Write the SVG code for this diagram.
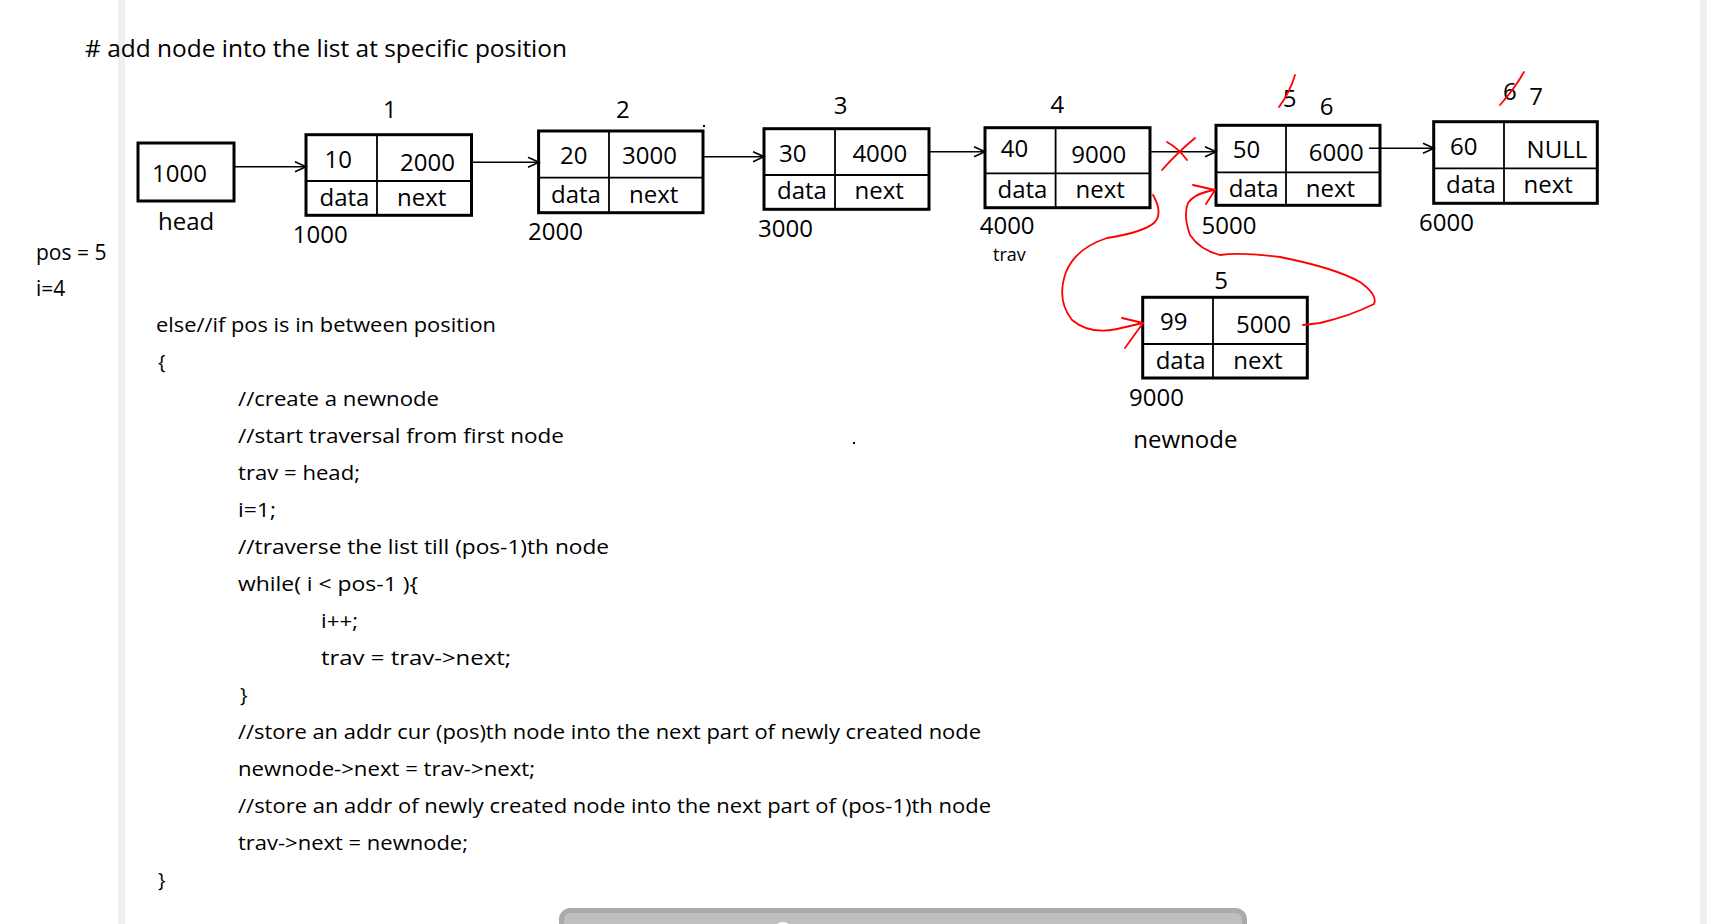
<svg xmlns="http://www.w3.org/2000/svg" width="1712" height="924" viewBox="0 0 1712 924">
<defs>
<style>
text{font-family:"Open Sans","Liberation Sans",sans-serif;fill:#000}
.t{font-size:24px}
.s{font-size:21px}
.c{font-size:20px}
.box{fill:#fff;stroke:#000;stroke-width:3}
.div{stroke:#000;stroke-width:1.8;fill:none}
.con{stroke:#000;stroke-width:1.6;fill:none;marker-end:url(#ah)}
.red{stroke:#ff0000;stroke-width:1.8;fill:none;stroke-linecap:round;stroke-linejoin:round}
</style>
<marker id="ah" markerUnits="userSpaceOnUse" markerWidth="14" markerHeight="14" refX="12" refY="6" orient="auto">
<path d="M1,1 L12,6 L1,11" fill="none" stroke="#000" stroke-width="1.6"/>
</marker>
</defs>
<rect width="1712" height="924" fill="#fff"/>
<rect x="118" y="0" width="7" height="924" fill="#f0f0f0"/>
<rect x="1700" y="0" width="7" height="924" fill="#f0f0f0"/>
<rect x="561.5" y="910.5" width="683" height="30" rx="9" fill="#bfbfbf" stroke="#aaaaaa" stroke-width="5"/>
<circle cx="783" cy="932" r="10" fill="#fff"/>

<text class="t" x="85" y="57" font-size="23" textLength="482" lengthAdjust="spacingAndGlyphs">#&#160;add node into the list at specific position</text>
<text class="s" x="36" y="260">pos = 5</text>
<text class="s" x="36" y="296">i=4</text>

<g id="head">
<rect class="box" x="138" y="143" width="96" height="58"/>
<text class="t" x="152" y="182">1000</text>
<text class="t" x="158" y="230">head</text>
</g>

<g id="node1">
<rect class="box" x="306" y="134.7" width="165.5" height="80.6"/>
<line class="div" x1="377" y1="134.7" x2="377" y2="215.3"/>
<line class="div" x1="306" y1="181" x2="471.5" y2="181"/>
<text class="t" x="324.5" y="167.7">10</text>
<text class="t" x="400" y="170.7">2000</text>
<text class="t" x="319.5" y="206">data</text>
<text class="t" x="397" y="206">next</text>
<text class="t" x="383" y="118">1</text>
<text class="t" x="292.8" y="243">1000</text>
</g>

<g id="node2">
<rect class="box" x="538.6" y="131" width="164.4" height="81.7"/>
<line class="div" x1="609" y1="131" x2="609" y2="212.7"/>
<line class="div" x1="538.6" y1="177.7" x2="703" y2="177.7"/>
<text class="t" x="560" y="164">20</text>
<text class="t" x="622" y="164">3000</text>
<text class="t" x="551" y="202.7">data</text>
<text class="t" x="629" y="202.7">next</text>
<text class="t" x="616" y="118">2</text>
<text class="t" x="528" y="240">2000</text>
</g>

<g id="node3">
<rect class="box" x="764" y="128.7" width="165" height="80.6"/>
<line class="div" x1="835" y1="128.7" x2="835" y2="209.3"/>
<line class="div" x1="764" y1="175" x2="929" y2="175"/>
<text class="t" x="779" y="161.7">30</text>
<text class="t" x="852.4" y="161.7">4000</text>
<text class="t" x="777" y="199.3">data</text>
<text class="t" x="854.5" y="199.3">next</text>
<text class="t" x="833.7" y="114">3</text>
<text class="t" x="758" y="236.7">3000</text>
</g>

<g id="node4">
<rect class="box" x="985" y="127.7" width="165" height="80"/>
<line class="div" x1="1055.6" y1="127.7" x2="1055.6" y2="207.7"/>
<line class="div" x1="985" y1="173.3" x2="1150" y2="173.3"/>
<text class="t" x="1000.8" y="157.3">40</text>
<text class="t" x="1071.3" y="162.7">9000</text>
<text class="t" x="997.5" y="198.3">data</text>
<text class="t" x="1075.5" y="198.3">next</text>
<text class="t" x="1050.6" y="113.3">4</text>
<text class="t" x="979.7" y="234">4000</text>
<text x="993" y="261" font-size="18">trav</text>
</g>

<g id="node5">
<rect class="box" x="1216" y="125.3" width="164" height="80"/>
<line class="div" x1="1286" y1="125.3" x2="1286" y2="205.3"/>
<line class="div" x1="1216" y1="172.3" x2="1380" y2="172.3"/>
<text class="t" x="1232.7" y="158.3">50</text>
<text class="t" x="1308.8" y="161">6000</text>
<text class="t" x="1228.8" y="196.7">data</text>
<text class="t" x="1305.7" y="196.7">next</text>
<text class="t" x="1282.7" y="106.7">5</text>
<path class="red" d="M1279,107 Q1290,92 1295,75"/>
<text class="t" x="1319.7" y="115">6</text>
<text class="t" x="1201.5" y="234">5000</text>
</g>

<g id="node6">
<rect class="box" x="1433.7" y="121.7" width="163.6" height="81.6"/>
<line class="div" x1="1504" y1="121.7" x2="1504" y2="203.3"/>
<line class="div" x1="1433.7" y1="168.3" x2="1597.3" y2="168.3"/>
<text class="t" x="1450" y="155">60</text>
<text class="t" x="1526.6" y="158.3">NULL</text>
<text class="t" x="1446" y="193.3">data</text>
<text class="t" x="1523.5" y="193.3">next</text>
<text class="t" x="1503" y="100">6</text>
<path class="red" d="M1500,105 Q1515,88 1524,72"/>
<text class="t" x="1529.3" y="105">7</text>
<text class="t" x="1419" y="230.7">6000</text>
</g>

<g id="newnode">
<rect class="box" x="1142.7" y="297.3" width="164.6" height="80.7"/>
<line class="div" x1="1213" y1="297.3" x2="1213" y2="378"/>
<line class="div" x1="1142.7" y1="344" x2="1307.3" y2="344"/>
<text class="t" x="1160" y="330">99</text>
<text class="t" x="1236" y="333.3">5000</text>
<text class="t" x="1155.7" y="369">data</text>
<text class="t" x="1233.3" y="369">next</text>
<text class="t" x="1214.3" y="289.3">5</text>
<text class="t" x="1129" y="405.7">9000</text>
<text class="t" x="1133.3" y="448.3">newnode</text>
</g>

<g id="connectors">
<line class="con" x1="234" y1="166.7" x2="306" y2="166.7"/>
<line class="con" x1="471.5" y1="162.3" x2="539" y2="162.3"/>
<line class="con" x1="703" y1="156.7" x2="764" y2="156.7"/>
<line class="con" x1="929" y1="151.7" x2="985" y2="151.7"/>
<line class="con" x1="1150" y1="151.7" x2="1216" y2="151.7"/>
<line class="con" x1="1369" y1="148.3" x2="1434" y2="148.3"/>
<path class="red" d="M1167,142 Q1178,148 1187,160 M1195,138 Q1178,152 1162,170"/>
<path class="red" d="M1153,195 Q1163,212 1155,222 Q1145,232 1107,238 Q1076,248 1066,272 Q1056,300 1072,320 Q1090,335 1117,329 L1143,323"/>
<path class="red" d="M1122,318 L1143,323 L1125,348"/>
<path class="red" d="M1303,325 L1320,323 Q1350,316 1374,304 Q1378,295 1360,282 Q1335,268 1280,257 Q1240,252 1220,255 Q1200,250 1190,235 Q1183,215 1188,203 Q1195,193 1215,190"/>
<path class="red" d="M1193,185 L1215,190 L1206,204"/>
</g>

<rect x="703" y="125" width="2" height="2" fill="#000"/>
<rect x="853" y="442" width="2" height="2" fill="#000"/>

<g id="code" class="c">
<text class="c" x="156" y="332" textLength="340" lengthAdjust="spacingAndGlyphs">else//if pos is in between position</text>
<text class="c" x="158" y="369">{</text>
<text class="c" x="238" y="406" textLength="201" lengthAdjust="spacingAndGlyphs">//create a newnode</text>
<text class="c" x="238" y="443" textLength="326" lengthAdjust="spacingAndGlyphs">//start traversal from first node</text>
<text class="c" x="238" y="480" textLength="122" lengthAdjust="spacingAndGlyphs">trav = head;</text>
<text class="c" x="238" y="517" textLength="38" lengthAdjust="spacingAndGlyphs">i=1;</text>
<text class="c" x="238" y="554" textLength="371" lengthAdjust="spacingAndGlyphs">//traverse the list till (pos-1)th node</text>
<text class="c" x="238" y="591" textLength="180" lengthAdjust="spacingAndGlyphs">while( i &lt; pos-1 ){</text>
<text class="c" x="321" y="628" textLength="37" lengthAdjust="spacingAndGlyphs">i++;</text>
<text class="c" x="321" y="665" textLength="190" lengthAdjust="spacingAndGlyphs">trav = trav-&gt;next;</text>
<text class="c" x="240" y="702">}</text>
<text class="c" x="238" y="739" textLength="743" lengthAdjust="spacingAndGlyphs">//store an addr cur (pos)th node into the next part of newly created node</text>
<text class="c" x="238" y="776" textLength="297" lengthAdjust="spacingAndGlyphs">newnode-&gt;next = trav-&gt;next;</text>
<text class="c" x="238" y="813" textLength="753" lengthAdjust="spacingAndGlyphs">//store an addr of newly created node into the next part of (pos-1)th node</text>
<text class="c" x="238" y="850" textLength="230" lengthAdjust="spacingAndGlyphs">trav-&gt;next = newnode;</text>
<text class="c" x="158" y="887">}</text>
</g>
</svg>
